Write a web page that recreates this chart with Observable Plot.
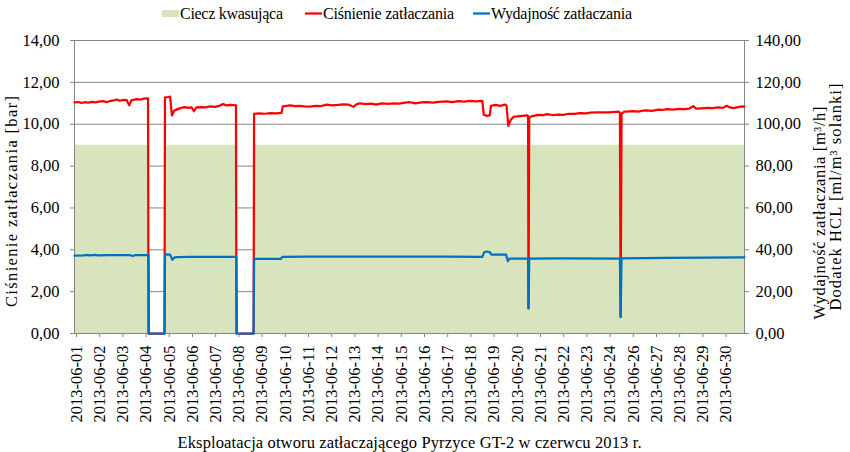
<!DOCTYPE html>
<html><head><meta charset="utf-8">
<script src="https://cdn.jsdelivr.net/npm/d3@7"></script>
<script src="https://cdn.jsdelivr.net/npm/@observablehq/plot@0.6"></script>
<style>
body{margin:0;background:#fff;}
#wrap{width:850px;height:452px;position:relative;font-family:"Liberation Serif","Times New Roman",serif;}
#wrap svg{display:block;font-family:"Liberation Serif","Times New Roman",serif;}
#wrap svg text{font-family:"Liberation Serif","Times New Roman",serif;}
</style></head><body><div id="wrap"></div>
<script>
// x-axis category labels (one tick per label, 2013-06-25 absent in source)
const xLabels = ["2013-06-01","2013-06-02","2013-06-03","2013-06-04","2013-06-05","2013-06-06","2013-06-07","2013-06-08","2013-06-09","2013-06-10","2013-06-11","2013-06-12","2013-06-13","2013-06-14","2013-06-15","2013-06-16","2013-06-17","2013-06-18","2013-06-19","2013-06-20","2013-06-21","2013-06-22","2013-06-23","2013-06-24","2013-06-26","2013-06-27","2013-06-28","2013-06-29","2013-06-30"];
const yTicks = [0,2,4,6,8,10,12,14];

// Ciśnienie zatłaczania [bar] (left axis)
const pDay = [0.00,0.15,0.30,0.45,0.60,0.75,0.90,1.05,1.23,1.40,1.55,1.70,1.82,1.95,2.10,2.25,2.36,2.45,2.68,2.85,3.00,3.17,3.19,3.88,3.90,4.05,4.12,4.20,4.30,4.45,4.60,4.76,4.90,5.05,5.15,5.25,5.45,5.65,5.85,6.05,6.25,6.40,6.55,6.75,6.96,6.98,7.72,7.74,7.95,8.20,8.45,8.70,8.92,8.98,9.15,9.29,9.50,9.70,9.90,10.15,10.40,10.60,10.87,11.10,11.35,11.60,11.80,12.02,12.15,12.31,12.55,12.80,13.00,13.25,13.50,13.74,14.00,14.25,14.46,14.70,14.95,15.20,15.45,15.70,16.04,16.30,16.55,16.80,17.05,17.30,17.58,17.64,17.78,17.90,17.95,18.15,18.35,18.55,18.62,18.70,18.80,18.92,19.10,19.30,19.50,19.55,19.57,19.60,19.70,19.78,20.00,20.20,20.35,20.60,20.85,21.06,21.30,21.55,21.79,22.05,22.25,22.50,22.75,23.00,23.20,23.45,23.51,23.54,23.58,23.70,23.80,24.05,24.30,24.50,24.66,24.90,25.15,25.35,25.53,25.80,26.05,26.30,26.50,26.67,26.80,27.05,27.30,27.50,27.75,27.95,28.11,28.25,28.40,28.60,28.80,28.88];
const pVal = [11.04,11.06,11.02,11.05,11.03,11.07,11.04,11.08,11.10,11.06,11.12,11.14,11.18,11.12,11.16,11.15,10.90,11.14,11.20,11.18,11.22,11.24,0.00,0.00,11.28,11.30,11.32,10.42,10.65,10.72,10.78,10.82,10.78,10.80,10.62,10.80,10.82,10.80,10.85,10.83,10.88,10.96,10.90,10.92,10.90,0.00,0.00,10.50,10.52,10.50,10.53,10.52,10.54,10.85,10.88,10.90,10.86,10.88,10.85,10.84,10.88,10.86,10.94,10.90,10.92,10.95,10.94,10.83,10.95,11.00,10.96,10.98,10.94,11.00,10.97,11.00,10.98,11.03,11.05,11.00,11.04,11.06,11.03,11.07,11.09,11.06,11.10,11.08,11.11,11.09,11.12,10.45,10.40,10.42,10.88,10.92,10.88,10.94,10.90,9.92,10.20,10.35,10.38,10.40,10.42,10.40,1.20,10.30,10.38,10.40,10.45,10.43,10.48,10.44,10.46,10.45,10.50,10.49,10.53,10.52,10.55,10.56,10.57,10.56,10.58,10.60,10.55,0.80,10.50,10.60,10.60,10.62,10.60,10.65,10.66,10.64,10.70,10.68,10.72,10.70,10.73,10.72,10.75,10.86,10.74,10.76,10.78,10.77,10.80,10.78,10.88,10.80,10.77,10.82,10.85,10.84];

// Wydajność zatłaczania [m3/h] (right axis)
const qDay = [0.00,0.40,0.55,0.65,0.90,1.00,1.50,2.40,2.50,2.60,3.19,3.21,3.88,3.90,4.12,4.22,4.32,4.45,5.00,5.40,6.98,7.00,7.72,7.74,8.90,8.96,10.00,12.00,14.00,16.00,17.58,17.66,17.78,17.91,17.97,18.60,18.68,18.75,19.55,19.57,19.60,21.00,23.51,23.54,23.58,25.50,28.88];
const qVal = [37.2,37.3,37.6,37.3,37.6,37.3,37.4,37.4,37.0,37.4,37.4,0,0,37.8,37.7,35.2,36.4,36.5,36.6,36.6,36.6,0,0,35.6,35.7,36.6,36.7,36.7,36.7,36.7,36.6,38.8,39.2,38.8,37.7,37.7,34.6,35.8,35.8,12.1,35.8,35.9,35.8,7.8,35.9,36.1,36.4];

// Ciecz kwasująca – Dodatek HCL [ml/m3 solanki] (right axis)
const aDay = [0.00,3.20,3.20,3.89,3.89,6.99,6.99,7.73,7.73,28.88];
const aVal = [90,90,0,0,90,90,0,0,90,90];

const pressure = pDay.map((d,i)=>({day:d, v:pVal[i]}));
const flow = qDay.map((d,i)=>({day:d, v:qVal[i]}));
const acid = aDay.map((d,i)=>({day:d, v:aVal[i]}));

const fmt = d => d.toFixed(2).replace(".", ",");
const GREEN = "#d7e4bd", RED = "#ff0000", BLUE = "#0070c0", GRAY = "#868686";
const FONT = "Liberation Serif";

const wrap = document.getElementById("wrap");

// Legend (above the SVG chart)
const legend = d3.create("svg").attr("width", 850).attr("height", 30).style("font-size","16px");
const items = [
  {label:"Ciecz kwasująca", kind:"rect", color:GREEN, x:162, len:103},
  {label:"Ciśnienie zatłaczania", kind:"line", color:RED, x:305, len:131},
  {label:"Wydajność zatłaczania", kind:"line", color:BLUE, x:473, len:141}
];
for (const it of items) {
  if (it.kind === "rect") legend.append("rect").attr("x", it.x).attr("y", 10).attr("width", 17).attr("height", 7).attr("fill", it.color);
  else legend.append("line").attr("x1", it.x).attr("x2", it.x+17).attr("y1", 13.5).attr("y2", 13.5).attr("stroke", it.color).attr("stroke-width", 2.25);
  legend.append("text").attr("x", it.x+18).attr("y", 18.5).attr("textLength", it.len).attr("lengthAdjust", "spacing").text(it.label);
}
wrap.appendChild(legend.node());

const axisStyle = {stroke: GRAY, label: null, fontSize: 16.5, fontFamily: FONT};
const titleStyle = {text: d => d, fontSize: 16.5, fontFamily: FONT, textAnchor: "middle", lineAnchor: "middle", fill: "black"};

const chart = Plot.plot({
  width: 850, height: 422,
  marginLeft: 74, marginRight: 106, marginTop: 10, marginBottom: 119,
  style: {fontFamily: FONT, fontSize: "16px", color: "black", background: "white", overflow: "visible"},
  x: {domain: [0, 28.88]},
  y: {domain: [0, 14]},
  marks: [
    Plot.gridY(yTicks, {stroke: GRAY, strokeOpacity: 1, strokeWidth: 1}),
    Plot.areaY(acid, {x: "day", y: d => d.v / 10, fill: GREEN}),
    Plot.frame({stroke: GRAY}),
    Plot.line(pressure, {x: "day", y: "v", stroke: RED, strokeWidth: 2.25}),
    Plot.line(flow, {x: "day", y: d => d.v / 10, stroke: BLUE, strokeWidth: 2.25}),
    Plot.axisY(yTicks, {...axisStyle, anchor: "left", tickFormat: fmt, tickSize: 4, tickPadding: 11}),
    Plot.axisY(yTicks, {...axisStyle, anchor: "right", tickFormat: d => fmt(d * 10), tickSize: 4, tickPadding: 7}),
    Plot.axisX(xLabels.map((_, i) => i), {...axisStyle, tickFormat: i => xLabels[i], tickRotate: -90, tickSize: 4, tickPadding: 8, dx: 2}),
    Plot.text(["Ciśnienie zatłaczania [bar]"], {...titleStyle, frameAnchor: "left", rotate: -90, dx: -62.5, dy: 14.5}),
    Plot.text(["Wydajność zatłaczania [m³/h]"], {...titleStyle, frameAnchor: "right", rotate: -90, dx: 75, dy: 26}),
    Plot.text(["Dodatek HCL [ml/m³ solanki]"], {...titleStyle, frameAnchor: "right", rotate: -90, dx: 91.5, dy: 10}),
    Plot.text(["Eksploatacja otworu zatłaczającego Pyrzyce GT-2 w czerwcu 2013 r."], {...titleStyle, frameAnchor: "bottom", lineAnchor: "bottom", dy: 114})
  ]
});
// stretch titles to the widths they have in the source picture
const lens = {"Ciśnienie zatłaczania [bar]": 211, "Wydajność zatłaczania [m³/h]": 213, "Dodatek HCL [ml/m³ solanki]": 227, "Eksploatacja otworu zatłaczającego Pyrzyce GT-2 w czerwcu 2013 r.": 464};
d3.select(chart).selectAll("text").each(function() {
  const t = this.textContent;
  if (lens[t]) d3.select(this).attr("textLength", lens[t]).attr("lengthAdjust", "spacing");
});
wrap.appendChild(chart);
</script>
</body></html>
